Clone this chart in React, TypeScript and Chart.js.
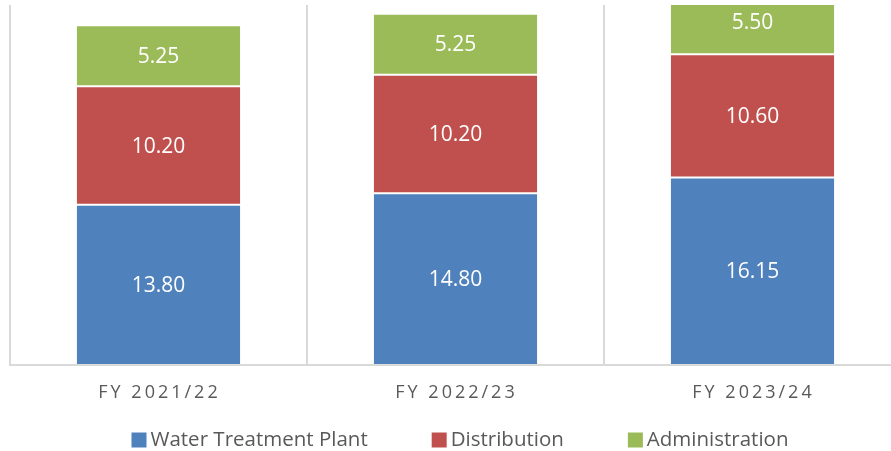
import React, { useEffect, useRef } from "react";
import { Chart, registerables } from "chart.js";

Chart.register(...registerables);

const categories = ["FY 2021/22", "FY 2022/23", "FY 2023/24"];
const waterTreatmentPlant = [13.8, 14.8, 16.15];
const distribution = [10.2, 10.2, 10.6];
const administration = [5.25, 5.25, 5.5];
const seriesLabels = ["Water Treatment Plant", "Distribution", "Administration"];
const seriesColors = ["#4F81BD", "#C0504D", "#9BBB59"];
const yMax = 31;

const FONT = "'Open Sans', 'DejaVu Sans', sans-serif";

const customDraw = {
  id: "customDraw",
  afterDraw(chart: any) {
    const ctx = chart.ctx as CanvasRenderingContext2D;
    // data labels
    ctx.save();
    ctx.fillStyle = "#ffffff";
    ctx.font = `21px ${FONT}`;
    ctx.textAlign = "center";
    ctx.textBaseline = "middle";
    chart.data.datasets.forEach((ds: any, di: number) => {
      const meta = chart.getDatasetMeta(di);
      meta.data.forEach((el: any, i: number) => {
        const c = el.getCenterPoint();
        ctx.fillText(Number(ds.data[i]).toFixed(2), c.x, c.y + 1);
      });
    });
    ctx.restore();

    // x-axis labels with letter spacing
    const xs = chart.scales.x;
    ctx.save();
    ctx.fillStyle = "#595959";
    ctx.font = `18px ${FONT}`;
    (ctx as any).letterSpacing = "3px";
    ctx.textAlign = "center";
    ctx.textBaseline = "middle";
    (chart.data.labels as string[]).forEach((lab, i) => {
      ctx.fillText(lab, xs.getPixelForTick(i) + 1, 393);
    });
    ctx.restore();

    // legend
    ctx.save();
    ctx.font = `20.5px ${FONT}`;
    ctx.textBaseline = "middle";
    const box = 15;
    const gapBT = 4;
    const itemGap = 64;
    const widths = chart.data.datasets.map((d: any) => ctx.measureText(d.label).width);
    const total =
      widths.reduce((a: number, b: number) => a + b, 0) +
      chart.data.datasets.length * (box + gapBT) +
      (chart.data.datasets.length - 1) * itemGap;
    let x = 460 - total / 2;
    const y = 440;
    chart.data.datasets.forEach((d: any, i: number) => {
      ctx.fillStyle = d.backgroundColor;
      ctx.fillRect(x, y - box / 2, box, box);
      ctx.fillStyle = "#595959";
      ctx.fillText(d.label, x + box + gapBT, y);
      x += box + gapBT + widths[i] + itemGap;
    });
    ctx.restore();
  },
};

export default function App() {
  const ref = useRef<HTMLCanvasElement | null>(null);
  useEffect(() => {
    if (!ref.current) return;
    const values = [waterTreatmentPlant, distribution, administration];
    const chart = new Chart(ref.current, {
      type: "bar",
      data: {
        labels: categories,
        datasets: values.map((v, i) => ({
          label: seriesLabels[i],
          data: v,
          backgroundColor: seriesColors[i],
          borderColor: "rgba(255,255,255,0.12)",
          borderWidth: 1,
          borderSkipped: false,
          categoryPercentage: 1,
          barPercentage: 0.556,
        })),
      },
      options: {
        responsive: false,
        animation: false,
        layout: { padding: { left: 10, top: 5, right: 0, bottom: 86 } },
        plugins: { legend: { display: false }, tooltip: { enabled: false } },
        scales: {
          x: {
            stacked: true,
            grid: { display: true, color: "#d9d9d9", lineWidth: 2, drawTicks: false, offset: true },
            border: { display: true, color: "#d9d9d9", width: 2 },
            ticks: { display: false },
          },
          y: {
            stacked: true,
            display: false,
            min: 0,
            max: yMax,
          },
        },
      },
      plugins: [customDraw],
    });
    return () => chart.destroy();
  }, []);
  return (
    <div style={{ position: "absolute", left: 0, top: 0, width: 891, height: 451, overflow: "hidden", background: "#fff" }}>
      <canvas ref={ref} width={901} height={451} style={{ width: 901, height: 451, display: "block" }} />
    </div>
  );
}
